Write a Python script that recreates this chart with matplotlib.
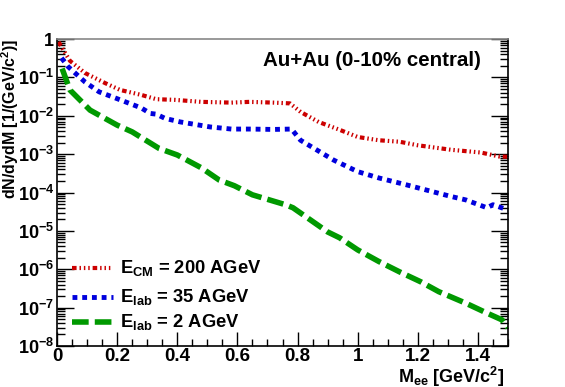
import matplotlib
matplotlib.use("Agg")
import matplotlib.pyplot as plt
from matplotlib.ticker import FixedLocator, LogLocator, MultipleLocator, NullFormatter

plt.rcParams["font.family"] = ["Liberation Sans", "DejaVu Sans"]
plt.rcParams["font.weight"] = "bold"
plt.rcParams["axes.labelweight"] = "bold"
plt.rcParams["mathtext.fontset"] = "custom"
plt.rcParams["mathtext.rm"] = "Liberation Sans:bold"
plt.rcParams["mathtext.bf"] = "Liberation Sans:bold"
plt.rcParams["mathtext.it"] = "Liberation Sans:bold"

# --- data ---
m_200 = [0.005, 0.043, 0.093, 0.16, 0.21, 0.28, 0.33, 0.39, 0.48, 0.58, 0.64, 0.72, 0.775,
         0.81, 0.87, 0.94, 1.0, 1.07, 1.14, 1.2, 1.31, 1.41, 1.47, 1.5]
y_200 = [0.84, 0.27, 0.13, 0.071, 0.047, 0.035, 0.027, 0.026, 0.023, 0.022, 0.023, 0.022, 0.021,
         0.0126, 0.0069, 0.0043, 0.0028, 0.0023, 0.0021, 0.0017, 0.0013, 0.0011, 0.00087, 0.00085]

m_35 = [0.015, 0.037, 0.093, 0.14, 0.21, 0.28, 0.31, 0.33, 0.36, 0.41, 0.51, 0.58, 0.64, 0.72,
        0.78, 0.81, 0.92, 1.0, 1.07, 1.16, 1.31, 1.36, 1.43, 1.45, 1.5]
y_35 = [0.32, 0.19, 0.076, 0.042, 0.026, 0.016, 0.0115, 0.011, 0.0085, 0.0069, 0.0051, 0.0045,
        0.0045, 0.0044, 0.0045, 0.0023, 0.0007, 0.00035, 0.00024, 0.00016, 7.9e-5, 6.4e-5,
        4e-5, 4.8e-5, 3.5e-5]

m_2 = [0.017, 0.043, 0.11, 0.2, 0.25, 0.34, 0.4, 0.48, 0.54, 0.59, 0.65, 0.76, 0.785, 0.9,
       0.94, 1.0, 1.07, 1.14, 1.21, 1.27, 1.36, 1.43, 1.48, 1.5]
y_2 = [0.17, 0.047, 0.014, 0.0057, 0.0038, 0.0014, 9.5e-4, 4.4e-4, 2.1e-4, 1.5e-4, 8.7e-5,
       4.8e-5, 4e-5, 9.4e-6, 6.6e-6, 3.2e-6, 1.6e-6, 8.5e-7, 4.7e-7, 2.6e-7, 1.3e-7, 7.2e-8,
       4.8e-8, 3e-8]

labels = [r"E$_{\rm CM}$ = 200 AGeV", r"E$_{\rm lab}$ = 35 AGeV", r"E$_{\rm lab}$ = 2 AGeV"]
y_ticks = [1, 1e-1, 1e-2, 1e-3, 1e-4, 1e-5, 1e-6, 1e-7, 1e-8]
y_ticklabels = ["1"] + [r"10$^{\mathbf{-%d}}$" % k for k in range(1, 9)]
x_ticks = [0, 0.2, 0.4, 0.6, 0.8, 1.0, 1.2, 1.4]
x_ticklabels = ["0", "0.2", "0.4", "0.6", "0.8", "1", "1.2", "1.4"]

RED, BLUE, GREEN = "#cc0000", "#0000dd", "#009900"
styles = [
    dict(color=RED, lw=3.0, dashes=(1.1, 0.7, 0.35, 0.7, 0.35, 0.7, 0.35, 0.7)),
    dict(color=BLUE, lw=3.5, dashes=(1.0, 1.0)),
    dict(color=GREEN, lw=4.0, dashes=(3.0, 1.1)),
]

fig = plt.figure(figsize=(5.65, 3.87), dpi=100)
ax = fig.add_axes([57 / 565, 1 - 346 / 387, 451 / 565, 307 / 387])

for (xs, ys), st in zip([(m_200, y_200), (m_35, y_35), (m_2, y_2)], styles):
    ax.plot(xs, ys, solid_capstyle="butt", dash_capstyle="butt", **st)

ax.set_yscale("log")
ax.set_xlim(0, 1.5)
ax.set_ylim(1e-8, 1)

ax.xaxis.set_major_locator(FixedLocator(x_ticks))
ax.set_xticklabels(x_ticklabels)
ax.xaxis.set_minor_locator(MultipleLocator(0.05))
ax.yaxis.set_major_locator(FixedLocator(y_ticks))
ax.set_yticklabels(y_ticklabels)
ax.yaxis.set_minor_locator(LogLocator(base=10, subs=range(2, 10), numticks=20))
ax.yaxis.set_minor_formatter(NullFormatter())

ax.tick_params(which="both", direction="in", top=False, right=True, labelsize=13, width=1)
ax.tick_params(axis="y", which="major", length=12, pad=2)
ax.tick_params(axis="y", which="minor", length=6)
ax.tick_params(axis="x", which="major", length=10, pad=1.5, labelsize=13.5)
ax.tick_params(axis="x", which="minor", length=5)
for s in ax.spines.values():
    s.set_linewidth(1.2)
ax.spines["top"].set_color("#888888")

ax.set_ylabel(r"dN/dydM [1/(GeV/c$^{2}$)]", fontsize=11.5, loc="top")
ax.yaxis.set_label_coords(-0.08, 1.0)
ax.set_xlabel(r"M$_{\rm ee}$ [GeV/c$^{2}$]", fontsize=13, loc="right")
ax.xaxis.set_label_coords(0.993, -0.06)

fig.text(481 / 565, 1 - 61 / 387, "Au+Au (0-10% central)", fontsize=14.8, ha="right", va="center")

# legend drawn by hand, ROOT-like
rows = [0.254, 0.160, 0.078]
for lab, st, yy in zip(labels, styles, rows):
    ax.plot([0.033, 0.124], [yy, yy], transform=ax.transAxes, **st)
    ax.text(0.14, yy, lab, transform=ax.transAxes, fontsize=13.2, va="center", ha="left")

fig.savefig("out.png", dpi=100)
